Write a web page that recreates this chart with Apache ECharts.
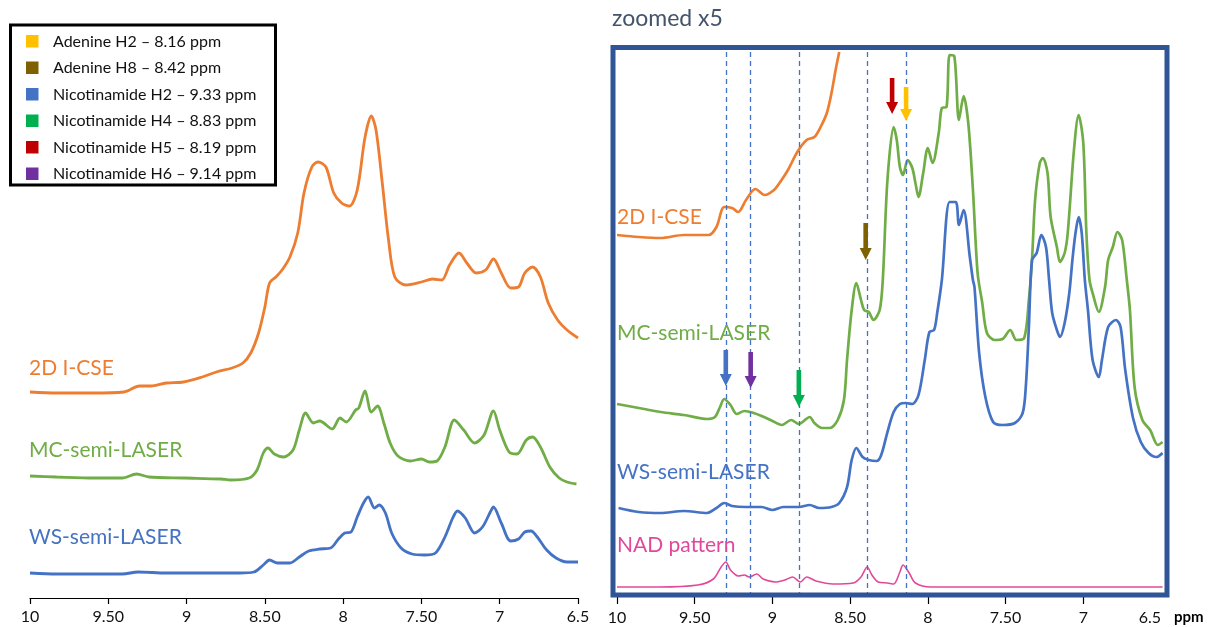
<!DOCTYPE html>
<html>
<head>
<meta charset="utf-8">
<script src="https://cdn.jsdelivr.net/npm/echarts@6/dist/echarts.min.js"></script>
<style>
  html, body { margin: 0; padding: 0; background: #ffffff; }
  #chart { width: 1208px; height: 627px; }
</style>
</head>
<body>
<div id="chart"></div>
<script>
// ---------- DATA (ppm, relative intensity) ----------
const tickValues = [10, 9.5, 9, 8.5, 8, 7.5, 7, 6.5];
const tickLabels = ['10', '9.50', '9', '8.50', '8', '7.50', '7', '6.5'];

const legendNames = [
  'Adenine H2 \u2013 8.16 ppm',
  'Adenine H8 \u2013 8.42 ppm',
  'Nicotinamide H2 \u2013 9.33 ppm',
  'Nicotinamide H4 \u2013 8.83 ppm',
  'Nicotinamide H5 \u2013 8.19 ppm',
  'Nicotinamide H6 \u2013 9.14 ppm'
];

const spectrumNames = ['2D I-CSE', 'MC-semi-LASER', 'WS-semi-LASER', 'NAD pattern'];

// full spectra (left panel)
const fullICSE = [[10.00,206],[9.83,205],[9.60,205],[9.40,206],[9.30,212],[9.23,212],[9.13,215],[9.02,216],[8.90,221],[8.81,226],[8.71,230],[8.64,235],[8.59,245],[8.54,265],[8.50,291],[8.47,315],[8.43,321],[8.39,328],[8.34,341],[8.29,365],[8.25,405],[8.20,431],[8.16,436],[8.11,431],[8.06,405],[8.01,395],[7.96,392],[7.91,408],[7.86,461],[7.82,482],[7.79,468],[7.75,415],[7.71,358],[7.67,321],[7.60,313],[7.50,316],[7.43,319],[7.37,318],[7.32,333],[7.26,345],[7.21,335],[7.15,325],[7.09,328],[7.04,339],[6.99,325],[6.93,310],[6.88,311],[6.84,325],[6.79,331],[6.74,321],[6.69,295],[6.63,278],[6.57,268],[6.50,260]];
const fullMC = [[10.00,122],[9.83,121],[9.59,120],[9.41,120],[9.32,124],[9.24,121],[9.01,120],[8.78,119],[8.72,118],[8.60,120],[8.55,128],[8.51,145],[8.48,150],[8.44,144],[8.38,141],[8.32,148],[8.28,168],[8.24,185],[8.19,175],[8.15,177],[8.07,169],[8.02,180],[7.98,176],[7.92,188],[7.90,190],[7.86,207],[7.82,186],[7.78,192],[7.74,175],[7.70,155],[7.65,142],[7.57,137],[7.50,139],[7.45,136],[7.40,137],[7.35,151],[7.29,178],[7.23,168],[7.16,155],[7.10,163],[7.04,187],[7.00,168],[6.94,146],[6.89,144],[6.83,158],[6.79,161],[6.74,151],[6.68,131],[6.62,120],[6.57,116],[6.51,114]];
const fullWS = [[10.00,25],[9.83,24],[9.59,24],[9.41,24],[9.31,26],[9.13,25],[8.90,25],[8.66,25],[8.57,26],[8.51,33],[8.47,38],[8.42,35],[8.34,35],[8.28,41],[8.22,47],[8.15,49],[8.08,50],[8.03,59],[7.99,65],[7.95,66],[7.91,81],[7.87,95],[7.84,101],[7.80,90],[7.77,93],[7.73,85],[7.69,65],[7.63,50],[7.56,44],[7.48,43],[7.41,45],[7.35,61],[7.30,80],[7.27,87],[7.22,80],[7.16,65],[7.11,71],[7.06,86],[7.04,91],[6.99,75],[6.93,57],[6.88,59],[6.84,66],[6.80,67],[6.76,61],[6.70,48],[6.64,40],[6.57,36],[6.50,36]];

// zoomed x5 spectra (right panel)
const zoomICSE = [[10.00,362],[9.86,360],[9.72,359],[9.57,362],[9.41,362],[9.36,370],[9.31,390],[9.26,389],[9.22,385],[9.17,397],[9.11,408],[9.05,402],[8.99,407],[8.95,415],[8.90,427],[8.84,445],[8.78,457],[8.73,460],[8.69,470],[8.65,484],[8.62,504],[8.59,530],[8.57,545]];
const zoomICSEEdge = [[6.49,543]];
const zoomMC = [[10.00,193],[9.86,189],[9.72,185],[9.57,182],[9.42,178],[9.37,180],[9.34,189],[9.31,198],[9.27,192],[9.23,183],[9.18,186],[9.12,184],[9.07,181],[9.00,176],[8.94,172],[8.88,177],[8.83,173],[8.76,180],[8.73,174],[8.68,169],[8.63,169],[8.58,177],[8.54,197],[8.52,237],[8.49,287],[8.46,314],[8.43,297],[8.41,287],[8.38,285],[8.35,277],[8.31,287],[8.29,317],[8.26,417],[8.22,470],[8.20,457],[8.18,430],[8.16,422],[8.13,437],[8.10,429],[8.08,414],[8.06,400],[8.03,424],[8.00,449],[7.97,434],[7.93,464],[7.91,489],[7.88,490],[7.86,542],[7.83,541],[7.80,477],[7.77,501],[7.74,474],[7.71,407],[7.68,324],[7.65,294],[7.62,264],[7.57,257],[7.52,258],[7.47,267],[7.43,257],[7.38,259],[7.35,297],[7.33,337],[7.31,397],[7.28,434],[7.26,439],[7.23,424],[7.21,380],[7.17,350],[7.15,335],[7.12,344],[7.10,364],[7.06,447],[7.03,482],[7.00,454],[6.98,364],[6.96,317],[6.94,304],[6.90,285],[6.86,310],[6.84,337],[6.81,350],[6.78,365],[6.75,357],[6.72,317],[6.70,287],[6.67,210],[6.62,177],[6.57,167],[6.52,152],[6.49,155]];
const zoomWS = [[9.99,89],[9.86,85],[9.72,84],[9.57,86],[9.42,84],[9.36,89],[9.31,94],[9.26,91],[9.17,90],[9.07,90],[9.00,87],[8.93,90],[8.83,90],[8.76,92],[8.70,89],[8.62,90],[8.57,94],[8.52,110],[8.49,137],[8.46,149],[8.42,140],[8.38,137],[8.33,136],[8.30,142],[8.26,165],[8.22,185],[8.18,193],[8.14,194],[8.10,193],[8.06,202],[8.02,237],[7.99,265],[7.96,267],[7.94,284],[7.91,317],[7.86,395],[7.82,395],[7.80,372],[7.77,387],[7.73,340],[7.71,317],[7.70,310],[7.67,244],[7.63,200],[7.58,175],[7.52,172],[7.44,174],[7.39,184],[7.37,210],[7.35,270],[7.33,337],[7.30,344],[7.27,362],[7.24,350],[7.22,317],[7.20,284],[7.17,267],[7.15,260],[7.12,274],[7.09,304],[7.07,337],[7.05,364],[7.03,380],[7.01,364],[6.99,317],[6.97,287],[6.94,237],[6.90,220],[6.88,237],[6.84,270],[6.79,277],[6.76,270],[6.73,227],[6.68,179],[6.63,155],[6.58,144],[6.53,140],[6.49,144]];
const zoomNAD = [[10.00,10],[9.73,10],[9.48,12],[9.38,18],[9.33,30],[9.30,35],[9.27,27],[9.22,21],[9.18,22],[9.15,20],[9.10,23],[9.06,18],[8.98,15],[8.92,17],[8.87,20],[8.82,15],[8.78,20],[8.72,16],[8.61,13],[8.48,14],[8.43,20],[8.39,30],[8.36,22],[8.32,15],[8.26,14],[8.22,13],[8.18,25],[8.16,32],[8.12,24],[8.08,14],[7.98,10],[7.61,10],[6.49,10]];

// dashed reference lines (ppm) and arrows (ppm, top, tip)
const dashedPpm = [9.30, 9.14, 8.83, 8.39, 8.14];
const arrowPpm = [9.30, 9.14, 8.83, 8.40, 8.23, 8.14];
const arrowTop = [247, 245, 227, 374, 519, 510];
const arrowTip = [211, 209, 190, 337, 483, 476];

// ---------- STYLE ----------
const C_OR = '#ED7D31', C_GR = '#70AD47', C_BL = '#4472C4', C_PK = '#E2489A';
const legendColors = ['#FFC000', '#7F6000', '#4472C4', '#00B050', '#C00000', '#7030A0'];
const arrowColors = ['#4472C4', '#7030A0', '#00B050', '#7F6000', '#C00000', '#FFC000'];
const FONT = 'Lato';

function tickFmt(v) {
  const i = tickValues.findIndex(t => Math.abs(t - v) < 1e-6);
  return i >= 0 ? tickLabels[i] : '';
}

const chart = echarts.init(document.getElementById('chart'), null, { renderer: 'canvas' });

function lineSeries(data, color, xi, width) {
  return {
    type: 'line', data: data, xAxisIndex: xi, yAxisIndex: xi,
    showSymbol: false, symbol: 'none', smooth: 0.3,
    lineStyle: { color: color, width: width },
    silent: true, animation: false, z: 3
  };
}

const graphics = [];
// legend box
graphics.push({ type: 'rect', shape: { x: 10.5, y: 25, width: 265, height: 160 },
  style: { fill: '#fff', stroke: '#000', lineWidth: 3 }, z: 50 });
legendNames.forEach((n, i) => {
  const cy = 41.5 + i * 26.5;
  graphics.push({ type: 'rect', shape: { x: 26, y: cy - 6.5, width: 12.5, height: 12.5 },
    style: { fill: legendColors[i] }, z: 51 });
  graphics.push({ type: 'text', x: 53, y: cy, z: 51,
    style: { text: n, fill: '#111', font: '16px ' + FONT, textVerticalAlign: 'middle', textAlign: 'left' } });
});
// panel labels (left)
[[spectrumNames[0], 368, C_OR], [spectrumNames[1], 450, C_GR], [spectrumNames[2], 537, C_BL]].forEach(l => {
  graphics.push({ type: 'text', x: 29, y: l[1], z: 20,
    style: { text: l[0], fill: l[2], font: '21px ' + FONT, textVerticalAlign: 'middle' } });
});
// panel labels (right)
[[spectrumNames[0], 217, C_OR], [spectrumNames[1], 333, C_GR], [spectrumNames[2], 472, C_BL], [spectrumNames[3], 545, C_PK]].forEach(l => {
  graphics.push({ type: 'text', x: 617, y: l[1], z: 20,
    style: { text: l[0], fill: l[2], font: '21px ' + FONT, textVerticalAlign: 'middle' } });
});
// title of zoomed panel
graphics.push({ type: 'text', x: 612, y: 19, z: 20,
  style: { text: 'zoomed x5', fill: '#44546A', font: '23px ' + FONT, textVerticalAlign: 'middle' } });
// zoom box
graphics.push({ type: 'rect', shape: { x: 613, y: 47.5, width: 554, height: 547.5 },
  style: { fill: 'none', stroke: '#2F5597', lineWidth: 5 }, z: 40 });
// ppm unit
graphics.push({ type: 'text', x: 1174, y: 617, z: 20,
  style: { text: 'ppm', fill: '#000', font: 'bold 15px ' + FONT, textVerticalAlign: 'middle' } });

const option = {
  animation: false,
  backgroundColor: '#ffffff',
  grid: [
    { left: 30, right: 630, top: 98, bottom: 29 },
    { left: 617, right: 47, top: 47, bottom: 30 }
  ],
  xAxis: [
    { type: 'value', gridIndex: 0, inverse: true, min: 6.5, max: 10, interval: 0.5,
      axisLine: { show: true, lineStyle: { color: '#000', width: 1.2 } },
      axisTick: { show: true, length: 6, lineStyle: { color: '#000', width: 1.2 } },
      splitLine: { show: false },
      axisLabel: { formatter: tickFmt, color: '#111', fontSize: 16, fontFamily: FONT, margin: 11 } },
    { type: 'value', gridIndex: 1, inverse: true, min: 6.5, max: 10, interval: 0.5,
      axisLine: { show: false },
      axisTick: { show: true, length: 7, lineStyle: { color: '#000', width: 1.2 }, customValues: [7, 7.5, 8, 8.5, 9, 9.5, 10] },
      splitLine: { show: false },
      axisLabel: { formatter: tickFmt, color: '#111', fontSize: 16, fontFamily: FONT, margin: 13, alignMinLabel: 'right' } }
  ],
  yAxis: [
    { type: 'value', gridIndex: 0, min: 0, max: 500, show: false },
    { type: 'value', gridIndex: 1, min: 0, max: 550, show: false }
  ],
  series: [
    lineSeries(fullICSE, C_OR, 0, 2.8),
    lineSeries(fullMC, C_GR, 0, 2.8),
    lineSeries(fullWS, C_BL, 0, 2.8),
    lineSeries(zoomICSE, C_OR, 1, 2.7),
    lineSeries(zoomMC, C_GR, 1, 2.7),
    lineSeries(zoomWS, C_BL, 1, 2.7),
    Object.assign(lineSeries(zoomNAD, C_PK, 1, 1.6), {
      markLine: {
        silent: true, symbol: ['none', 'none'], label: { show: false },
        lineStyle: { color: C_BL, type: [5, 4], width: 1.3 },
        data: dashedPpm.map(v => ({ xAxis: v }))
      }
    }),
    { type: 'scatter', xAxisIndex: 1, yAxisIndex: 1, data: zoomICSEEdge, symbolSize: 3,
      itemStyle: { color: C_OR }, silent: true },
    { type: 'custom', xAxisIndex: 1, yAxisIndex: 1, silent: true, z: 10,
      data: arrowPpm.map((p, i) => [p, arrowTop[i], arrowTip[i]]),
      encode: { x: 0, y: [1, 2] },
      renderItem: function (params, api) {
        const x = api.value(0);
        const p1 = api.coord([x, api.value(1)]);
        const p2 = api.coord([x, api.value(2)]);
        const hw = 2.3, hh = 6, hl = 12;
        const cx = p1[0];
        return {
          type: 'polygon',
          shape: { points: [[cx - hw, p1[1]], [cx + hw, p1[1]], [cx + hw, p2[1] - hl], [cx + hh, p2[1] - hl],
                            [cx, p2[1]], [cx - hh, p2[1] - hl], [cx - hw, p2[1] - hl]] },
          style: { fill: arrowColors[params.dataIndex] }
        };
      }
    }
  ],
  graphic: graphics
};

chart.setOption(option);
</script>
</body>
</html>
